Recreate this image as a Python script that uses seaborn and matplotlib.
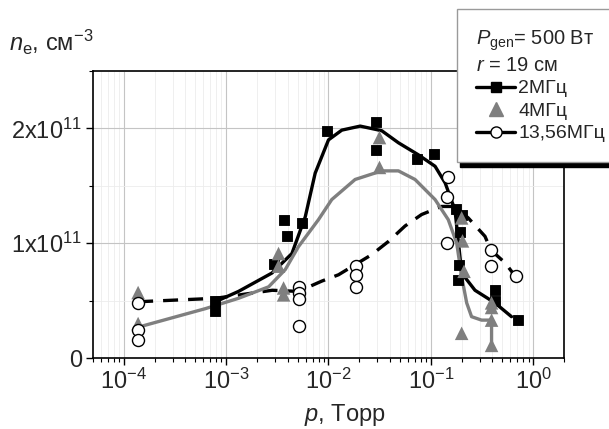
import numpy as np
import pandas as pd
import matplotlib
matplotlib.use("Agg")
import matplotlib.pyplot as plt
import matplotlib.ticker as ticker
from matplotlib.lines import Line2D
import seaborn as sns

# ======================
# 数据
# ======================
# 2 MHz 实测点
p_2mhz = [7.85e-4, 7.85e-4, 2.92e-3, 3.64e-3, 3.92e-3, 5.5e-3, 9.7e-3, 0.0292, 0.0292,
          0.0738, 0.1074, 0.175, 0.2, 0.193, 0.188, 0.186, 0.423, 0.423, 0.714]
n_2mhz = [0.50, 0.41, 0.82, 1.205, 1.06, 1.18, 1.98, 2.055, 1.81,
          1.735, 1.78, 1.30, 1.25, 1.10, 0.81, 0.68, 0.59, 0.50, 0.33]

# 4 MHz 实测点
p_4mhz = [1.38e-4, 1.38e-4, 3.25e-3, 3.25e-3, 3.64e-3, 3.64e-3, 0.0315, 0.0315,
          0.2, 0.204, 0.211, 0.2, 0.392, 0.392, 0.392, 0.392]
n_4mhz = [0.57, 0.30, 0.91, 0.80, 0.61, 0.55, 1.92, 1.66,
          1.22, 1.02, 0.755, 0.215, 0.48, 0.44, 0.33, 0.11]

# 13.56 MHz 实测点
p_13mhz = [1.38e-4, 1.38e-4, 1.38e-4, 5.2e-3, 5.2e-3, 5.2e-3, 5.2e-3, 0.01845, 0.01845,
           0.01845, 0.148, 0.145, 0.145, 0.386, 0.386, 0.672]
n_13mhz = [0.48, 0.245, 0.16, 0.62, 0.57, 0.51, 0.275, 0.80, 0.725,
           0.62, 1.575, 1.40, 1.005, 0.94, 0.805, 0.71]

# 拟合曲线 (手工描点)
p_2mhz_fit = [7.85e-4, 1.32e-3, 2.80e-3, 4.39e-3, 5.93e-3, 7.41e-3, 0.0100, 0.0135, 0.0204,
              0.0331, 0.0482, 0.0755, 0.110, 0.138, 0.172, 0.185, 0.200, 0.270, 0.423, 0.614]
n_2mhz_fit = [0.49, 0.58, 0.74, 0.91, 1.23, 1.61, 1.90, 1.985, 2.02,
              1.98, 1.875, 1.77, 1.67, 1.525, 1.29, 1.03, 0.74, 0.59, 0.48, 0.36]

p_4mhz_fit = [1.40e-4, 2.96e-4, 6.27e-4, 1.32e-3, 2.60e-3, 3.78e-3, 5.09e-3, 7.98e-3, 0.01076,
              0.0182, 0.0331, 0.0482, 0.0701, 0.110, 0.148, 0.179, 0.200, 0.224, 0.250,
              0.313, 0.392, 0.392]
n_4mhz_fit = [0.27, 0.35, 0.43, 0.52, 0.62, 0.77, 0.97, 1.205, 1.38,
              1.555, 1.63, 1.63, 1.555, 1.38, 1.205, 1.0, 0.71, 0.48, 0.36,
              0.33, 0.33, 0.11]

p_13mhz_fit = [1.38e-4, 7.85e-4, 2.82e-3, 5.09e-3, 8.61e-3, 0.01253, 0.0264, 0.0385, 0.0560,
               0.0813, 0.127, 0.172, 0.232, 0.338, 0.386, 0.530, 0.671]
n_13mhz_fit = [0.49, 0.52, 0.59, 0.58, 0.67, 0.725, 0.90, 1.015, 1.15,
               1.25, 1.32, 1.32, 1.22, 1.06, 0.94, 0.83, 0.71]

SCALE = 1e11
y_ticks = [0, 1e11, 2e11]
y_ticklabels = ["0", "1x10$^{11}$", "2x10$^{11}$"]
legend_labels = ["2МГц", "4МГц", "13,56МГц"]


def to_df(p, n):
    return pd.DataFrame({"p": p, "n": np.array(n) * SCALE})


def main():
    sns.set_theme(style="white")
    plt.rcParams["font.family"] = ["Liberation Sans", "DejaVu Sans"]
    plt.rcParams["mathtext.fontset"] = "custom"
    plt.rcParams["mathtext.rm"] = "Liberation Sans"
    plt.rcParams["mathtext.it"] = "Liberation Sans:italic"
    plt.rcParams["axes.unicode_minus"] = False

    fig = plt.figure(figsize=(6.09, 4.29), dpi=100)
    ax = fig.add_axes([0.1527, 0.1655, 0.7734, 0.669])
    ax.set_xscale("log")

    grey = "#7f7f7f"

    # 曲线
    sns.lineplot(data=to_df(p_13mhz_fit, n_13mhz_fit), x="p", y="n", sort=False, estimator=None,
                 color="black", lw=2.4, linestyle=(0, (4.5, 3)), ax=ax, zorder=2)
    sns.lineplot(data=to_df(p_2mhz_fit, n_2mhz_fit), x="p", y="n", sort=False, estimator=None,
                 color="black", lw=2.4, ax=ax, zorder=2)
    sns.lineplot(data=to_df(p_4mhz_fit, n_4mhz_fit), x="p", y="n", sort=False, estimator=None,
                 color=grey, lw=2.4, ax=ax, zorder=2)

    # 数据点
    sns.scatterplot(data=to_df(p_2mhz, n_2mhz), x="p", y="n", marker="s", s=62,
                    color="black", edgecolor="black", ax=ax, zorder=3)
    sns.scatterplot(data=to_df(p_4mhz, n_4mhz), x="p", y="n", marker="^", s=95,
                    color=grey, edgecolor="none", ax=ax, zorder=3)
    sns.scatterplot(data=to_df(p_13mhz, n_13mhz), x="p", y="n", marker="o", s=75,
                    color="white", edgecolor="black", linewidth=1.0, ax=ax, zorder=4)

    ax.set_xlim(5e-5, 2)
    ax.set_ylim(0, 2.5e11)

    ax.set_yticks(y_ticks)
    ax.set_yticklabels(y_ticklabels)
    ax.yaxis.set_minor_locator(ticker.MultipleLocator(0.5e11))
    ax.xaxis.set_major_locator(ticker.LogLocator(base=10, numticks=10))
    ax.xaxis.set_minor_locator(ticker.LogLocator(base=10, subs=np.arange(2, 10), numticks=20))

    ax.grid(which="major", color="#c4c4c4", lw=0.8)
    ax.grid(which="minor", color="#ececec", lw=0.6)
    ax.set_axisbelow(True)

    for sp in ax.spines.values():
        sp.set_color("black")
        sp.set_linewidth(1.2)

    ax.tick_params(which="major", direction="out", length=5, width=1, color="black",
                   bottom=True, left=True, labelsize=17, pad=3)
    ax.tick_params(which="minor", direction="out", length=3, width=0.8, color="black",
                   bottom=True, left=True)

    ax.set_xlabel("$p$, Торр", fontsize=17)
    ax.xaxis.set_label_coords(0.535, -0.155)
    ax.set_ylabel("")
    ax.text(-0.178, 1.10, "$n_{\\rm e}$, см$^{-3}$", transform=ax.transAxes,
            ha="left", va="center", fontsize=17)

    # 图例
    handles = [
        Line2D([], [], color="black", lw=2.4, marker="s", markersize=7),
        Line2D([], [], color=grey, lw=0, marker="^", markersize=10),
        Line2D([], [], color="black", lw=2.4, marker="o", markersize=8,
               markerfacecolor="white", markeredgecolor="black"),
    ]
    leg = fig.legend(handles, legend_labels,
                     title="$P_{\\rm gen}$= 500 Вт\n$r$ = 19 см",
                     loc="upper left", bbox_to_anchor=(457 / 609, 1 - 9 / 429),
                     borderaxespad=0,
                     fontsize=14, title_fontsize=14.5, alignment="left",
                     frameon=True, fancybox=False, framealpha=1,
                     edgecolor="#9a9a9a", borderpad=1.0, labelspacing=0.25,
                     handlelength=2.0, handletextpad=0.15,
                     shadow={"ox": 2, "oy": -3.5, "color": "black", "alpha": 1})
    leg.get_frame().set_linewidth(1.0)

    plt.savefig("out.png", dpi=100)
    plt.close()


if __name__ == "__main__":
    main()
